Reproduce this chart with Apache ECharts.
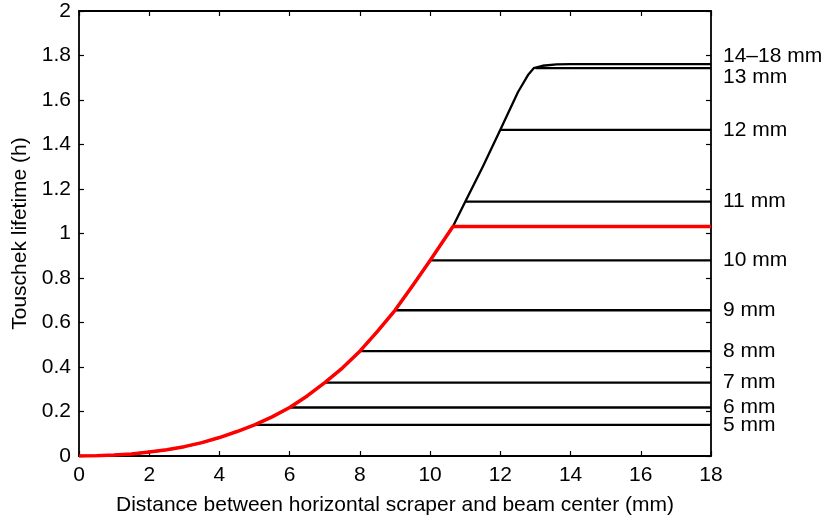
<!DOCTYPE html>
<html>
<head>
<meta charset="utf-8">
<script src="https://cdn.jsdelivr.net/npm/echarts@6/dist/echarts.min.js"></script>
<style>
html,body{margin:0;padding:0;background:#fff;}
#chart{width:827px;height:521px;}
</style>
</head>
<body>
<div id="chart"></div>
<script>
// Touschek lifetime curve (full aperture, black envelope)
const curveX = [0, 0.5, 1, 1.5, 2, 2.5, 3, 3.5, 4, 4.5, 5, 5.5, 6, 6.5, 7, 7.5, 8, 8.5, 9, 9.5, 10, 10.65, 11, 11.5, 12, 12.5, 12.8, 12.95, 13.2, 13.6, 14, 18];
const curveY = [0, 0.0008, 0.004, 0.009, 0.018, 0.028, 0.042, 0.06, 0.083, 0.11, 0.14, 0.176, 0.218, 0.27, 0.33, 0.395, 0.471, 0.56, 0.655, 0.765, 0.879, 1.031, 1.143, 1.30, 1.466, 1.635, 1.715, 1.743, 1.754, 1.76, 1.761, 1.761];
// scraper positions (mm) and saturated lifetime (h)
const scraperPos = [5, 6, 7, 8, 9, 10, 11, 12, 13];
const scraperLife = [0.14, 0.218, 0.33, 0.471, 0.655, 0.879, 1.143, 1.466, 1.743];
const scraperLabels = ['5 mm', '6 mm', '7 mm', '8 mm', '9 mm', '10 mm', '11 mm', '12 mm', '13 mm'];
const envelopeLabel = '14\u201318 mm';
// highlighted (red) case
const redPos = 10.65;
const redLife = 1.031;
const xTicks = [0, 2, 4, 6, 8, 10, 12, 14, 16, 18];
const yTicks = [0, 0.2, 0.4, 0.6, 0.8, 1, 1.2, 1.4, 1.6, 1.8, 2];

const FONT = 'Liberation Sans, Arial, Helvetica, sans-serif';
const FS = 21;
const labelNudge = { '13 mm': 9, [envelopeLabel]: -8 };

const curve = curveX.map((x, i) => [x, curveY[i]]);

const series = [];
scraperPos.forEach((p, i) => {
  series.push({
    type: 'line', name: scraperLabels[i],
    data: [[p, scraperLife[i]], [18, scraperLife[i]]],
    showSymbol: false, silent: true,
    lineStyle: { color: '#000', width: 2.3 },
    endLabel: { show: true, formatter: scraperLabels[i], color: '#000', fontFamily: FONT, fontSize: FS, distance: 12, offset: [0, labelNudge[scraperLabels[i]] || 0] }
  });
});
series.push({
  type: 'line', name: envelopeLabel, data: curve,
  showSymbol: false, silent: true,
  lineStyle: { color: '#000', width: 2.3, join: 'round' },
  endLabel: { show: true, formatter: envelopeLabel, color: '#000', fontFamily: FONT, fontSize: FS, distance: 12, offset: [0, labelNudge[envelopeLabel]] }
});
const redData = curve.filter(d => d[0] <= redPos).concat([[18, redLife]]);
series.push({
  type: 'line', name: 'red', data: redData,
  showSymbol: false, silent: true,
  lineStyle: { color: '#ff0000', width: 3.5, join: 'round' }
});

const axisLineStyle = { show: true, onZero: false, lineStyle: { color: '#000', width: 1.8 } };
const tickStyle = { show: true, inside: true, length: 5, lineStyle: { color: '#000', width: 1.2 } };

const option = {
  animation: false,
  backgroundColor: '#fff',
  textStyle: { fontFamily: FONT },
  grid: { left: 79, right: 116, top: 11, bottom: 64, containLabel: false },
  xAxis: [{
    type: 'value', min: 0, max: 18, interval: 2, position: 'bottom',
    name: 'Distance between horizontal scraper and beam center (mm)',
    nameLocation: 'middle', nameGap: 39,
    nameTextStyle: { color: '#000', fontSize: FS, fontFamily: FONT },
    axisLine: axisLineStyle, axisTick: tickStyle, splitLine: { show: false },
    axisLabel: { color: '#000', fontSize: FS, fontFamily: FONT, margin: 9,
      formatter: v => xTicks.includes(v) ? String(v) : '' }
  }, {
    type: 'value', min: 0, max: 18, interval: 2, position: 'top',
    axisLine: axisLineStyle, axisTick: tickStyle, splitLine: { show: false },
    axisLabel: { show: false }
  }],
  yAxis: [{
    type: 'value', min: 0, max: 2, interval: 0.2, position: 'left',
    name: 'Touschek lifetime (h)', nameLocation: 'middle', nameGap: 48,
    nameTextStyle: { color: '#000', fontSize: FS, fontFamily: FONT },
    axisLine: axisLineStyle, axisTick: tickStyle, splitLine: { show: false },
    axisLabel: { color: '#000', fontSize: FS, fontFamily: FONT, margin: 8,
      formatter: v => { const t = yTicks.find(y => Math.abs(y - v) < 1e-9); return t === undefined ? '' : String(t); } }
  }, {
    type: 'value', min: 0, max: 2, interval: 0.2, position: 'right',
    axisLine: axisLineStyle, axisTick: tickStyle, splitLine: { show: false },
    axisLabel: { show: false }
  }],
  series: series
};

const chart = echarts.init(document.getElementById('chart'), null, { renderer: 'canvas' });
chart.setOption(option);
</script>
</body>
</html>
